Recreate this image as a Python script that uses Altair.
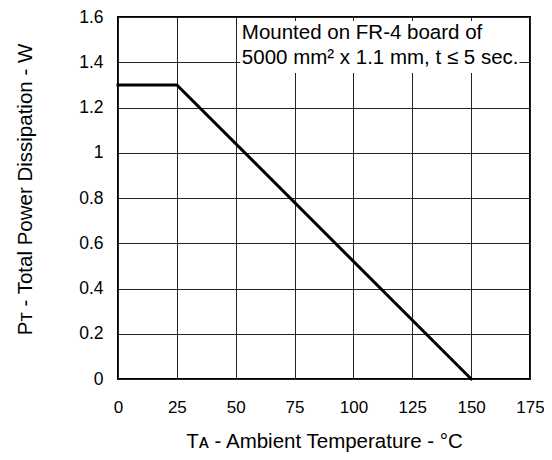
import altair as alt
import pandas as pd

# Data
temp_c = [0, 25, 150]
power_w = [1.3, 1.3, 0.0]

x_ticks = [0, 25, 50, 75, 100, 125, 150, 175]
y_ticks = [0, 0.2, 0.4, 0.6, 0.8, 1.0, 1.2, 1.4, 1.6]

note_lines = ["Mounted on FR-4 board of", "5000 mm\u00b2 x 1.1 mm, t \u2264 5 sec."]
note_x = [52.6, 52.6]
note_y = [1.503, 1.393]

box_x = [51.9]
box_x2 = [170.5]
box_y = [1.353]
box_y2 = [1.582]

FONT = "Liberation Sans, Arial, Helvetica, sans-serif"

curve = pd.DataFrame({"t": temp_c, "p": power_w})
notes = pd.DataFrame({"label": note_lines, "x": note_x, "y": note_y})
box = pd.DataFrame({"x": box_x, "x2": box_x2, "y": box_y, "y2": box_y2})

xscale = alt.Scale(domain=[0, 175], nice=False)
yscale = alt.Scale(domain=[0, 1.6], nice=False)

xaxis = alt.Axis(
    values=x_ticks, title="T\u1d00 - Ambient Temperature - \u00b0C",
    grid=True, gridColor="#222", gridWidth=1, gridOpacity=1,
    domain=False, ticks=False, labelPadding=20, labelFontSize=17,
    labelFlush=False, labelOverlap=False,
    labelFont=FONT, labelColor="black", titleFont=FONT, titleFontSize=20.5,
    titleFontWeight="normal", titleColor="black", titleY=68,
    titleBaseline="alphabetic",
)
yaxis = alt.Axis(
    values=y_ticks, format="~g", title="P\u1d1b - Total Power Dissipation - W",
    grid=True, gridColor="#222", gridWidth=1, gridOpacity=1,
    domain=False, ticks=False, labelPadding=15, labelFontSize=17.5,
    labelFlush=False, labelOverlap=False,
    labelFont=FONT, labelColor="black", titleFont=FONT, titleFontSize=20.5,
    titleFontWeight="normal", titleColor="black", titleX=-87, titleY=172,
    titleAngle=-90, titleBaseline="alphabetic",
)

line = alt.Chart(curve).mark_line(color="black", strokeWidth=3, strokeCap="square").encode(
    x=alt.X("t:Q", scale=xscale, axis=xaxis),
    y=alt.Y("p:Q", scale=yscale, axis=yaxis),
)

rect = alt.Chart(box).mark_rect(color="white", opacity=1).encode(
    x=alt.X("x:Q", scale=xscale), x2="x2:Q",
    y=alt.Y("y:Q", scale=yscale), y2="y2:Q",
)

text = alt.Chart(notes).mark_text(
    align="left", baseline="alphabetic", fontSize=20.5, font=FONT, color="black"
).encode(
    x=alt.X("x:Q", scale=xscale), y=alt.Y("y:Q", scale=yscale), text="label:N"
)

chart = alt.layer(rect, line, text).properties(
    width=412, height=362,
    autosize=alt.AutoSizeParams(type="none"),
    padding={"left": 110, "top": 9, "right": 14, "bottom": 73},
    background="white",
).configure_view(stroke="black", strokeWidth=2)

chart.save("out.html", embed_options={"renderer": "svg", "actions": False})
